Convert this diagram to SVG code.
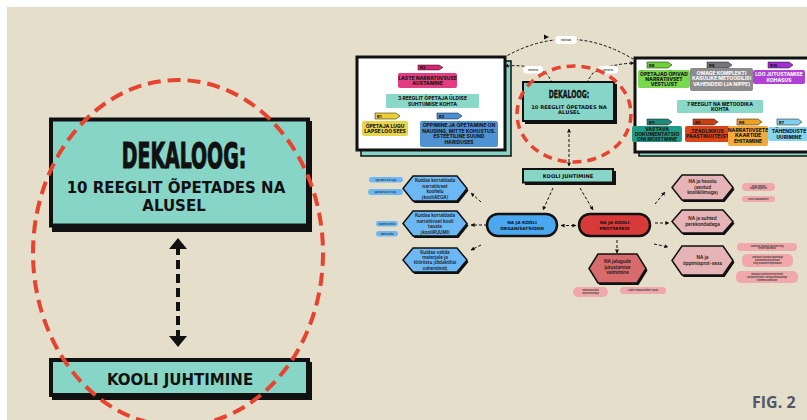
<svg xmlns="http://www.w3.org/2000/svg" width="807" height="420" viewBox="0 0 807 420">
<defs>
<style>
.bg{fill:#e4decb}
.teal{fill:#87d5c7}
.h{font-family:"DejaVu Sans",Inter,sans-serif;font-weight:700;fill:#111;text-anchor:middle}
.cond{font-family:"DejaVu Sans",Inter,sans-serif;font-weight:700;fill:#111;stroke:#111;text-anchor:middle}
.t{font-family:Inter,"Open Sans","DejaVu Sans",sans-serif;font-weight:800;font-size:5px;fill:#1a1a1a;text-anchor:middle}
.tw{fill:#f4f4f4}
.tag{font-family:Inter,"DejaVu Sans",sans-serif;font-weight:800;font-size:4px;fill:#111}
.hx{font-family:Inter,"Open Sans","DejaVu Sans",sans-serif;font-weight:600;font-size:4.6px;fill:#1a1a1a;text-anchor:middle}
.pill{font-family:Inter,"DejaVu Sans",sans-serif;font-weight:600;font-size:2.6px;fill:#333;text-anchor:middle}
.ps{font-size:2.2px}
.dash{fill:none;stroke:#111;stroke-width:1;stroke-dasharray:3 2}
.red{fill:none;stroke:#e8432e}
.hexb{fill:#6cb8f5;stroke:#111;stroke-width:1.5}
.hexp{fill:#e6b3b6;stroke:#111;stroke-width:1.5}
.shadow{fill:#111}
</style>
<marker id="ah" viewBox="0 0 10 10" refX="9" refY="5" markerWidth="4" markerHeight="4" orient="auto-start-reverse">
<path d="M0 0 L10 5 L0 10 z" fill="#111"/>
</marker>
</defs>

<rect x="0" y="0" width="807" height="420" fill="#ffffff"/>
<rect class="bg" x="7" y="7" width="800" height="413"/>

<!-- LEFT PANEL -->
<g id="left-dekaloog">
<rect class="shadow" x="52" y="121" width="260" height="111"/>
<rect class="teal" x="51" y="119.5" width="257" height="106" stroke="#111" stroke-width="4"/>
<text class="cond" transform="translate(184 168) scale(0.54 1)" font-size="35" stroke-width="1.2">DEKALOOG:</text>
<text class="h" x="176" y="192.5" font-size="15">10 REEGLIT ÕPETADES NA</text>
<text class="h" x="174" y="211" font-size="15">ALUSEL</text>
</g>
<g id="left-kooli">
<rect class="shadow" x="52" y="362" width="260" height="38"/>
<rect class="teal" x="51" y="360" width="257" height="35" stroke="#111" stroke-width="4"/>
<text class="h" x="180" y="384.5" font-size="15">KOOLI JUHTIMINE</text>
</g>
<g id="left-connectors">
<line x1="178" y1="246" x2="178" y2="339" stroke="#111" stroke-width="4" stroke-dasharray="9 5"/>
<path d="M178 238 L187 249 L169 249 z" fill="#111"/>
<path d="M178 347 L187 336 L169 336 z" fill="#111"/>
</g>
<ellipse class="red" cx="178" cy="253" rx="145" ry="173" stroke-width="4" stroke-dasharray="13 7"/>

<!-- RIGHT PANEL: top-left card -->
<g id="card-left">
<rect x="361" y="61" width="150" height="95" fill="#87d5c7" stroke="#111" stroke-width="1.5"/>
<rect x="357" y="57" width="148" height="93" fill="#fff" stroke="#111" stroke-width="3"/>
<polygon points="418,65 439,65 443,67.5 439,70 418,70" fill="#d6246e" stroke="#111" stroke-width="0.5"/>
<text class="tag" x="420" y="69.3">R3</text>
<rect x="398" y="73" width="59" height="15" rx="2" fill="#e23d80"/>
<text class="t" x="427.5" y="79.5">LASTE NARRATIIVSUSE</text>
<text class="t" x="427.5" y="85">AUSTAMINE</text>
<rect x="386" y="94" width="93" height="14" rx="1" fill="#8ad8c8"/>
<text class="t" x="432.5" y="100">3 REEGLIT ÕPETAJA ÜLDISE</text>
<text class="t" x="432.5" y="106">SUHTUMISE KOHTA</text>
<polygon points="375,113 396,113 400,116 396,119 375,119" fill="#e8d030" stroke="#111" stroke-width="0.5"/>
<text class="tag" x="377" y="117.8">R1</text>
<rect x="362" y="121" width="46" height="15" rx="2" fill="#e8d44a"/>
<text class="t" x="385" y="127.5">ÕPETAJA LUGU</text>
<text class="t" x="385" y="133">LAPSE LOO SEES</text>
<polygon points="437,113 458,113 462,116 458,119 437,119" fill="#4a8fd4" stroke="#111" stroke-width="0.5"/>
<text class="tag" x="439" y="117.8">R2</text>
<rect x="420" y="121" width="78" height="26" rx="2" fill="#4f92d4"/>
<text class="t" x="459" y="127">ÕPPIMINE JA ÕPETAMINE ON</text>
<text class="t" x="459" y="132.5">NAUDING, MITTE KOHUSTUS.</text>
<text class="t" x="459" y="138">ESTEETILINE SUUND</text>
<text class="t" x="459" y="143.5">HARIDUSES</text>
</g>

<!-- top-right card -->
<g id="card-right">
<rect x="639" y="62" width="175" height="94" fill="#87d5c7" stroke="#111" stroke-width="1.5"/>
<rect x="635" y="58" width="175" height="94" fill="#fff" stroke="#111" stroke-width="3"/>
<polygon points="647,62 668,62 672,65 668,68 647,68" fill="#6fd23a" stroke="#111" stroke-width="0.5"/>
<text class="tag" x="649" y="66.8">R8</text>
<rect x="638" y="70" width="52" height="18" rx="2" fill="#7ad84e"/>
<text class="t" x="664" y="75.5">ÕPETAJAD ÕPIVAD</text>
<text class="t" x="664" y="80.5">NARRATIIVSET</text>
<text class="t" x="664" y="85.5">VESTLUST</text>
<polygon points="707,62 728,62 732,65 728,68 707,68" fill="#777" stroke="#111" stroke-width="0.5"/>
<text class="tag" x="709" y="66.8">R9</text>
<rect x="690" y="68" width="63" height="23" rx="2" fill="#8c8c8c"/>
<text class="t tw" x="721.5" y="74.5">OMAGE KOMPLEKTI</text>
<text class="t tw" x="721.5" y="80">KASULIKE METOODILISI</text>
<text class="t tw" x="721.5" y="85.5">VAHENDEID (JA NIPPE)</text>
<polygon points="768,62 789,62 793,65 789,68 768,68" fill="#a030d0" stroke="#111" stroke-width="0.5"/>
<text class="tag" x="770" y="66.8">R10</text>
<rect x="753" y="70" width="52" height="14" rx="2" fill="#b040d8"/>
<text class="t tw" x="779" y="76">LOO JUTUSTAMISE</text>
<text class="t tw" x="779" y="81.5">KOHASUS</text>
<rect x="677" y="100" width="86" height="13" rx="1" fill="#8ad8c8"/>
<text class="t" x="720" y="105.5">7 REEGLIT NA METOODIKA</text>
<text class="t" x="720" y="111">KOHTA</text>
<polygon points="647,119 668,119 672,122 668,125 647,125" fill="#1f8a78" stroke="#111" stroke-width="0.5"/>
<text class="tag" x="649" y="123.8">R4</text>
<rect x="632" y="126" width="50" height="16" rx="2" fill="#1f9a85"/>
<text class="t" x="657" y="131">VASTAVA</text>
<text class="t" x="657" y="136">DOKUMENTATSIO</text>
<text class="t" x="657" y="141">ONI MÕISTMINE</text>
<polygon points="693,119 714,119 718,122 714,125 693,125" fill="#c8400e" stroke="#111" stroke-width="0.5"/>
<text class="tag" x="695" y="123.8">R5</text>
<rect x="685" y="126" width="45" height="16" rx="2" fill="#d9441a"/>
<text class="t" x="707.5" y="132.5">TEADLIKKUS</text>
<text class="t" x="707.5" y="138">PÄÄSTIKU(TE)ST</text>
<polygon points="737,119 758,119 762,122 758,125 737,125" fill="#f0a020" stroke="#111" stroke-width="0.5"/>
<text class="tag" x="739" y="123.8">R6</text>
<rect x="728" y="126" width="40" height="20" rx="2" fill="#f2aa3a"/>
<text class="t" x="748" y="131.5">NARRATIIVSETE</text>
<text class="t" x="748" y="137">KAARTIDE</text>
<text class="t" x="748" y="142.5">EHITAMINE</text>
<polygon points="777,119 798,119 802,122 798,125 777,125" fill="#7fd0f0" stroke="#111" stroke-width="0.5"/>
<text class="tag" x="779" y="123.8">R7</text>
<rect x="768" y="127" width="42" height="14" rx="2" fill="#84d4f2"/>
<text class="t" x="789" y="133">TÄHENDUSTE</text>
<text class="t" x="789" y="138.5">UURIMINE</text>
</g>

<!-- center -->
<g id="center-dekaloog">
<rect class="shadow" x="525" y="84" width="92" height="40"/>
<rect class="teal" x="523" y="82" width="91" height="39" stroke="#111" stroke-width="2"/>
<text class="cond" transform="translate(569 98) scale(0.56 1)" font-size="11" stroke-width="0.4">DEKALOOG:</text>
<text class="h" x="569" y="108.5" font-size="5.2">10 REEGLIT ÕPETADES NA</text>
<text class="h" x="569" y="114" font-size="5.2">ALUSEL</text>
</g>
<g id="center-kooli">
<rect class="shadow" x="525" y="171" width="91" height="14"/>
<rect class="teal" x="523" y="169" width="90" height="13.5" stroke="#111" stroke-width="2"/>
<text class="h" x="568" y="178" font-size="5.2">KOOLI JUHTIMINE</text>
</g>
<g id="org">
<rect x="487" y="214" width="70" height="22" rx="11" fill="#4aa8f0" stroke="#111" stroke-width="2.5"/>
<text class="h" x="522" y="224" font-size="4.3">NA JA KOOLI</text>
<text class="h" x="522" y="230" font-size="4.3">ORGANISATSIOON</text>
</g>
<g id="prot">
<rect x="579" y="214" width="71" height="22" rx="11" fill="#d83a3a" stroke="#111" stroke-width="2.5"/>
<text class="h" x="614.5" y="224" font-size="4.3">NA JA KOOLI</text>
<text class="h" x="614.5" y="230" font-size="4.3">PROTSESSID</text>
</g>

<!-- blue hexagons -->
<g id="hex-aeg">
<polygon class="shadow" points="404.5,190.5 414.5,178 458.5,178 468.5,190.5 458.5,203 414.5,203"/>
<polygon class="hexb" points="403,188.5 413,176 457,176 467,188.5 457,201 413,201"/>
<text class="hx" x="435" y="182">Kuidas korraldada</text>
<text class="hx" x="435" y="187.5">narratiivset</text>
<text class="hx" x="435" y="193">koolielu</text>
<text class="hx" x="435" y="198.5">(kooliAEGA)</text>
</g>
<g id="hex-ruum">
<polygon class="shadow" points="404.5,225.5 414.5,213 458.5,213 468.5,225.5 458.5,238 414.5,238"/>
<polygon class="hexb" points="403,223.5 413,211 457,211 467,223.5 457,236 413,236"/>
<text class="hx" x="435" y="217">Kuidas korraldada</text>
<text class="hx" x="435" y="222.5">narratiivset kooli</text>
<text class="hx" x="435" y="228">tausta</text>
<text class="hx" x="435" y="233.5">(kooliRUUMI)</text>
</g>
<g id="hex-vahendid">
<polygon class="shadow" points="404.5,262 414.5,250 458.5,250 468.5,262 458.5,274 414.5,274"/>
<polygon class="hexb" points="403,260 413,248 457,248 467,260 457,272 413,272"/>
<text class="hx" x="435" y="254">Kuidas valida</text>
<text class="hx" x="435" y="259">materjale ja</text>
<text class="hx" x="435" y="264">tööriistu (didaktilisi</text>
<text class="hx" x="435" y="269.5">vahendeid)</text>
</g>

<!-- blue pills -->
<g id="pills-blue">
<rect x="369" y="177" width="34" height="5.5" rx="2.7" fill="#6cb8f5"/>
<text class="pill" x="386" y="180.7">Iga päev kui lugu</text>
<rect x="368" y="189" width="35" height="6" rx="3" fill="#6cb8f5"/>
<text class="pill" x="385.5" y="192.9">Iga aasta kui lugu</text>
<rect x="376" y="221" width="22" height="5.5" rx="2.7" fill="#6cb8f5"/>
<text class="pill" x="387" y="224.7">klassiruumid</text>
<rect x="376" y="231" width="22" height="5.5" rx="2.7" fill="#6cb8f5"/>
<text class="pill" x="387" y="234.7">väliruumid</text>
</g>

<!-- pink hexagons -->
<g id="hex-heaolu">
<polygon class="shadow" points="673.5,189.5 683.5,177 724.5,177 734.5,189.5 724.5,202 683.5,202"/>
<polygon class="hexp" points="672,187.5 682,175 723,175 733,187.5 723,200 682,200"/>
<text class="hx" x="702.5" y="183">NA ja heaolu</text>
<text class="hx" x="702.5" y="188.5">(seotud</text>
<text class="hx" x="702.5" y="194">koolikliimaga)</text>
</g>
<g id="hex-suhted">
<polygon class="shadow" points="673.5,223.5 683.5,212 724.5,212 734.5,223.5 724.5,235 683.5,235"/>
<polygon class="hexp" points="672,221.5 682,210 723,210 733,221.5 723,233 682,233"/>
<text class="hx" x="702.5" y="220">NA ja suhted</text>
<text class="hx" x="702.5" y="225.5">perekondadega</text>
</g>
<g id="hex-oppimine">
<polygon class="shadow" points="673.5,262.5 683.5,248 724.5,248 734.5,262.5 724.5,277 683.5,277"/>
<polygon class="hexp" points="672,260.5 682,246 723,246 733,260.5 723,275 682,275"/>
<text class="hx" x="702.5" y="259">NA ja</text>
<text class="hx" x="702.5" y="264.5">õppimisprot-sess</text>
</g>
<g id="hex-lood">
<polygon class="shadow" points="590.5,270.5 599.5,256 638.5,256 647.5,270.5 638.5,285 599.5,285"/>
<polygon points="589,268.5 598,254 637,254 646,268.5 637,283 598,283" fill="#d86b6b" stroke="#111" stroke-width="1.5"/>
<text class="hx" x="617.5" y="263">NA jalugude</text>
<text class="hx" x="617.5" y="268.5">jutustamise</text>
<text class="hx" x="617.5" y="274">valmimine</text>
</g>

<!-- pink pills -->
<g id="pills-pink">
<rect x="742" y="183" width="33" height="8" rx="4" fill="#f0a8aa"/>
<text class="pill ps" x="758.5" y="186.6">Kogu elamise</text>
<text class="pill ps" x="758.5" y="189.4">nagiite jagamine</text>
<rect x="742" y="196" width="33" height="6" rx="3" fill="#f0a8aa"/>
<text class="pill" x="758.5" y="199.9">Kooli kasvamine</text>
<rect x="737" y="243" width="60" height="8" rx="4" fill="#f0a8aa"/>
<text class="pill ps" x="767" y="246.6">Vastavalt õpilaste taustale ning</text>
<text class="pill ps" x="767" y="249.4">nende õppekava</text>
<rect x="742" y="254" width="51" height="13" rx="5" fill="#f0a8aa"/>
<text class="pill ps" x="767.5" y="258.3">Vastavalt Euroopa õppekäigu</text>
<text class="pill ps" x="767.5" y="261.3">põhimõtetele/poliitikale</text>
<text class="pill ps" x="767.5" y="264.3">ning sisulistele õppekavale</text>
<rect x="736" y="271" width="62" height="12" rx="5" fill="#f0a8aa"/>
<text class="pill ps" x="767" y="275">Vastavalt poliitilistele/ärilistele</text>
<text class="pill ps" x="767" y="278">perspektiividele, arenguvõimalustega</text>
<text class="pill ps" x="767" y="281">liitekeha rakenduse</text>
<rect x="573" y="287" width="35" height="10" rx="5" fill="#f0a8aa"/>
<text class="pill ps" x="590.5" y="291.3">Seotud koostöö</text>
<text class="pill ps" x="590.5" y="294.3">narratiivsusega</text>
<rect x="620" y="287" width="46" height="7" rx="3.5" fill="#f0a8aa"/>
<text class="pill" x="643" y="291.4">Laste omaloomine (SDE)</text>
</g>

<!-- connectors -->
<g id="connectors">
<path class="dash" d="M503 58 Q 568 20 633 59"/>
<path d="M549 37 L544 34.5 L544 39.5 z" fill="#111"/>
<path class="dash" d="M553 83 L546 73 Q 530 64 505 66" marker-end="url(#ah)"/>
<path class="dash" d="M586 83 L593 73 Q 610 64 634 63" marker-end="url(#ah)"/>
<line class="dash" x1="569" y1="129" x2="569" y2="166" marker-start="url(#ah)" marker-end="url(#ah)"/>
<line class="dash" x1="553" y1="188" x2="543" y2="210" marker-end="url(#ah)"/>
<line class="dash" x1="580" y1="188" x2="593" y2="210" marker-end="url(#ah)"/>
<line class="dash" x1="561" y1="225.5" x2="576" y2="225.5" marker-start="url(#ah)" marker-end="url(#ah)"/>
<line class="dash" x1="481" y1="202" x2="471" y2="193" marker-end="url(#ah)"/>
<line class="dash" x1="487" y1="225" x2="471" y2="225" marker-end="url(#ah)"/>
<line class="dash" x1="481" y1="245" x2="471" y2="250" marker-end="url(#ah)"/>
<line class="dash" x1="617" y1="240" x2="617" y2="253" marker-end="url(#ah)"/>
<line class="dash" x1="655" y1="204" x2="665" y2="192" marker-end="url(#ah)"/>
<line class="dash" x1="655" y1="223" x2="669" y2="223" marker-end="url(#ah)"/>
<line class="dash" x1="654" y1="244" x2="668" y2="247" marker-end="url(#ah)"/>
</g>

<!-- labels on connectors -->
<g id="edge-labels">
<rect x="555" y="36" width="22" height="8" rx="4" fill="#fff"/>
<text class="pill" x="566" y="41">mõjutab</text>
<rect x="523" y="66" width="20" height="7.5" rx="3.7" fill="#fff"/>
<text class="pill" x="533" y="70.8">seostub</text>
<rect x="598" y="66" width="20" height="7.5" rx="3.7" fill="#fff"/>
<text class="pill" x="608" y="70.8">seostub</text>
</g>

<ellipse class="red" cx="574" cy="114" rx="57" ry="48" stroke-width="3.5" stroke-dasharray="9 6"/>

<text x="752" y="408" font-family="'Open Sans','Liberation Sans',sans-serif" font-weight="700" font-size="16" fill="#525866">FIG. 2</text>
</svg>
